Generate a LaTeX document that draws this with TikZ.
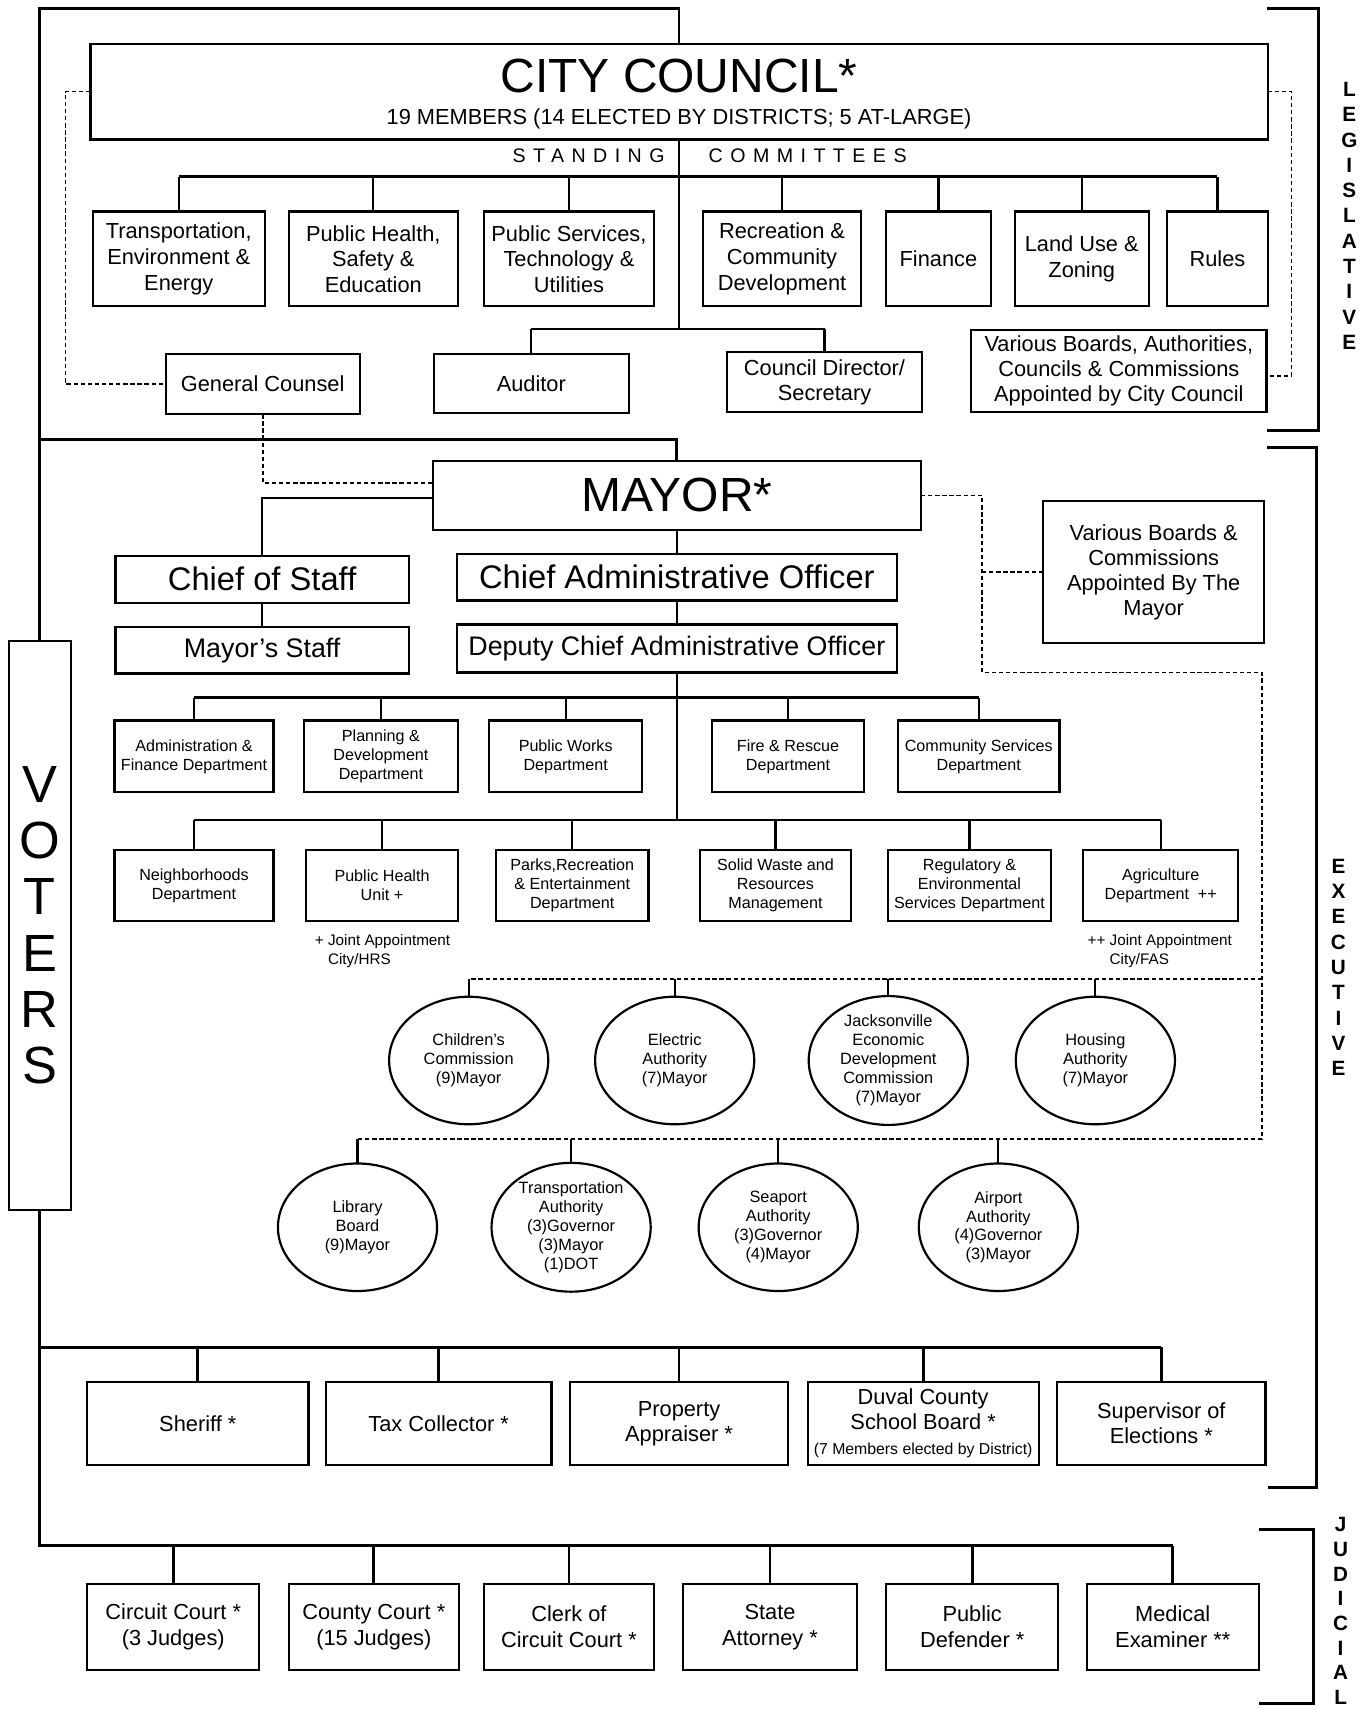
\documentclass[tikz,border=0pt]{standalone}
\usepackage{fontspec}
\setmainfont{Liberation Sans}
\usetikzlibrary{shapes.geometric}
\newcommand\fs[2]{\fontsize{#1}{#2}\selectfont}
\begin{document}
\begin{tikzpicture}[x=1pt,y=-1pt,
 box/.style={draw,line width=2pt,inner sep=0pt,outer sep=0pt,align=center},
 ln/.style={line width=2pt},
 mainln/.style={line width=2.6pt},
 dsh/.style={line width=1.6pt,dash pattern=on 4pt off 2.5pt},
 brk/.style={line width=2.8pt},
 ell/.style={draw,ellipse,line width=2pt,inner sep=0pt,outer sep=0pt,align=center,minimum width=146pt,minimum height=117pt,font=\fs{15}{17.4}},
 cmt/.style={box,minimum height=87pt,font=\fs{20}{23.5}},
 dep/.style={box,font=\fs{14.8}{17.4}},
 con/.style={box,minimum height=76pt,font=\fs{20}{23}},
 jud/.style={box,minimum height=79pt,font=\fs{20}{24}},
 sidelbl/.style={font=\bfseries\fs{19}{23.2},align=center,inner sep=0pt},
 ]
\useasboundingbox (0,0) rectangle (1253,1568);
% ---------- legislative ----------
\node[box,minimum width=1080pt,minimum height=88pt] (cc) at (623,84) {};
\node[font=\fs{44}{44},inner sep=0pt] (cct) at (623,70) {CITY COUNCIL*};
\node[font=\fs{20}{24},inner sep=0pt] (ccs) at (623,109) {19 MEMBERS (14 ELECTED BY DISTRICTS; 5 AT-LARGE)};
\node[font=\fs{18}{18}\addfontfeature{LetterSpace=38},inner sep=0pt] (stand) at (540,143) {STANDING};
\node[font=\fs{18}{18}\addfontfeature{LetterSpace=38},inner sep=0pt] (comm) at (741,143) {COMMITTEES};

\node[cmt,minimum width=158pt] (tee) at (164,237.5) {Transportation,\\Environment \&\\Energy};
\node[cmt,minimum width=155pt] (phse) at (342.5,237.5) {Public Health,\\Safety \&\\Education};
\node[cmt,minimum width=156pt] (pstu) at (522,237.5) {Public Services,\\Technology \&\\Utilities};
\node[cmt,minimum width=145pt] (rcd) at (717.5,237.5) {Recreation \&\\Community\\Development};
\node[cmt,minimum width=96pt] (fin) at (861,237.5) {Finance};
\node[cmt,minimum width=123pt] (luz) at (992.5,237.5) {Land Use \&\\Zoning};
\node[cmt,minimum width=92pt] (rules) at (1117,237.5) {Rules};

\node[box,minimum width=178pt,minimum height=55pt,font=\fs{20}{23}] (gc) at (241,352.5) {General Counsel};
\node[box,minimum width=179pt,minimum height=54pt,font=\fs{20}{23}] (aud) at (487.5,352) {Auditor};
\node[box,minimum width=179pt,minimum height=55pt,font=\fs{20}{23}] (cds) at (756.5,350.5) {Council Director/\\Secretary};
\node[box,minimum width=271pt,minimum height=75pt,font=\fs{20}{23}] (vbc) at (1026.5,340.5) {Various Boards, Authorities,\\Councils \& Commissions\\Appointed by City Council};

% ---------- executive ----------
\node[box,minimum width=448pt,minimum height=63pt,font=\fs{44}{44}] (mayor) at (621,454.5) {MAYOR*};
\node[box,minimum width=269pt,minimum height=43pt,font=\fs{30}{32}] (cos) at (240.5,531.5) {Chief of Staff};
\node[box,minimum width=269pt,minimum height=43pt,font=\fs{24.6}{28}] (ms) at (240.5,596.5) {Mayor's Staff};
\node[box,minimum width=404pt,minimum height=43pt,font=\fs{30}{32}] (cao) at (621,529.5) {Chief Administrative Officer};
\node[box,minimum width=404pt,minimum height=44pt,font=\fs{24.6}{28}] (dcao) at (621,595) {Deputy Chief Administrative Officer};
\node[box,minimum width=203pt,minimum height=130pt,font=\fs{20}{23}] (vbm) at (1058.5,525) {Various Boards \&\\Commissions\\Appointed By The\\Mayor};

\node[dep,minimum width=146pt,minimum height=66pt] (af) at (178,694) {Administration \&\\Finance Department};
\node[dep,minimum width=141pt,minimum height=66pt] (pd) at (349.5,694) {Planning \&\\Development\\Department};
\node[dep,minimum width=140pt,minimum height=66pt] (pw) at (519,694) {Public Works\\Department};
\node[dep,minimum width=140pt,minimum height=66pt] (fr) at (723,694) {Fire \& Rescue\\Department};
\node[dep,minimum width=148pt,minimum height=66pt] (cs) at (898,694) {Community Services\\Department};

\node[dep,minimum width=146pt,minimum height=65pt] (nb) at (178,812.5) {Neighborhoods\\Department};
\node[dep,minimum width=139pt,minimum height=65pt] (phu) at (350.5,812.5) {Public Health\\Unit +};
\node[dep,minimum width=140pt,minimum height=65pt] (pr) at (525,812.5) {Parks,Recreation\\\& Entertainment\\Department};
\node[dep,minimum width=139pt,minimum height=65pt] (sw) at (711.5,812.5) {Solid Waste and\\Resources\\Management};
\node[dep,minimum width=149pt,minimum height=65pt] (re) at (889.5,812.5) {Regulatory \&\\Environmental\\Services Department};
\node[dep,minimum width=142pt,minimum height=65pt] (ag) at (1065,812.5) {Agriculture\\Department\ \ ++};

\node[font=\fs{14}{17},align=left,inner sep=0pt] (n1) at (351,872.5) {+ Joint Appointment\\\phantom{+ }City/HRS};
\node[font=\fs{14}{17},align=left,inner sep=0pt] (n2) at (1064,872.5) {++ Joint Appointment\\\phantom{++ }City/FAS};

\node[ell] (chc) at (430,973) {Children's\\Commission\\(9)Mayor};
\node[ell] (ea) at (619,973) {Electric\\Authority\\(7)Mayor};
\node[ell] (jedc) at (815,973) {Jacksonville\\Economic\\Development\\Commission\\(7)Mayor};
\node[ell] (ha) at (1005,973) {Housing\\Authority\\(7)Mayor};
\node[ell] (lb) at (328,1126) {Library\\Board\\(9)Mayor};
\node[ell] (jta) at (524,1126) {Transportation\\Authority\\(3)Governor\\(3)Mayor\\(1)DOT};
\node[ell] (sp) at (714,1126) {Seaport\\Authority\\(3)Governor\\(4)Mayor};
\node[ell] (aa) at (916,1126) {Airport\\Authority\\(4)Governor\\(3)Mayor};

\node[con,minimum width=203pt] (sh) at (181.5,1306) {Sheriff *};
\node[con,minimum width=207pt] (tc) at (402.5,1306) {Tax Collector *};
\node[con,minimum width=200pt] (pa) at (623,1306) {Property\\Appraiser *};
\node[con,minimum width=212pt] (dcsb) at (847,1306) {Duval County\\School Board *\\{\fs{14.5}{16}(7 Members elected by District)}};
\node[con,minimum width=191pt] (soe) at (1065.5,1306) {Supervisor of\\Elections *};

% ---------- judicial ----------
\node[jud,minimum width=158pt] (circ) at (159,1492.5) {Circuit Court *\\(3 Judges)};
\node[jud,minimum width=156pt] (coun) at (343,1492.5) {County Court *\\(15 Judges)};
\node[jud,minimum width=156pt] (clerk) at (522,1492.5) {Clerk of\\Circuit Court *};
\node[jud,minimum width=159pt] (sa) at (706.5,1492.5) {State\\Attorney *};
\node[jud,minimum width=158pt] (pdf) at (892,1492.5) {Public\\Defender *};
\node[jud,minimum width=158pt] (me) at (1076,1492.5) {Medical\\Examiner **};

% ---------- voters ----------
\node[box,minimum width=57pt,minimum height=522pt,font=\fs{48}{51.6}] (vot) at (36.5,849) {V\\O\\T\\E\\R\\S};

% ---------- side labels ----------
\node[sidelbl] (leg) at (1238,198) {L\\E\\G\\I\\S\\L\\A\\T\\I\\V\\E};
\node[sidelbl] (exe) at (1228,887.5) {E\\X\\E\\C\\U\\T\\I\\V\\E};
\node[sidelbl,font=\bfseries\fs{19}{22.6}] (jdl) at (1230,1478) {J\\U\\D\\I\\C\\I\\A\\L};
\draw[brk] (1162,8) -| (1210,395) -- (1162,395);
\draw[brk] (1162,411) -| (1208,1365) -- (1163,1365);
\draw[brk] (1155,1403) -| (1205,1563) -- (1155,1563);

% ---------- main spine ----------
\coordinate (tl) at (36.5,8);
\coordinate (ml) at (36.5,403);
\coordinate (kl) at (36.5,1236);
\coordinate (bl) at (36.5,1418);
\draw[mainln] (vot.north) -- (tl) -| (cc.north);
\draw[mainln] (ml) -| (mayor.north);
\draw[mainln] (vot.south) -- (bl) -- (bl -| me.north);
\draw[mainln] (kl) -- (kl -| soe.north);
\foreach \n in {sh,tc,pa,dcsb,soe} \draw[mainln] (kl -| \n.north) -- (\n.north);
\foreach \n in {circ,coun,clerk,sa,pdf,me} \draw[mainln] (bl -| \n.north) -- (\n.north);

% ---------- council connectors ----------
\coordinate (cbus) at (623,162);
\coordinate (cb) at (623,302);
\draw[ln] (cc.south) -- (cb);
\draw[ln] (cbus -| tee.north) -- (cbus -| rules.north);
\foreach \n in {tee,phse,pstu,rcd,fin,luz,rules} \draw[ln] (cbus -| \n.north) -- (\n.north);
\draw[ln] (cb -| aud.north) -- (cb -| cds.north);
\foreach \n in {aud,cds} \draw[ln] (cb -| \n.north) -- (\n.north);
\draw[dsh] (cc.west) -- ++(-23,0) |- (gc.west);
\draw[dsh] (cc.east) -- ++(22,0) |- ([yshift=-4.5pt]vbc.east);
\draw[dsh] (gc.south) |- ([yshift=11.5pt]mayor.west);

% ---------- mayor connectors ----------
\draw[ln] ([yshift=-2.5pt]mayor.west) -| (cos.north);
\draw[ln] (cos.south) -- (ms.north);
\draw[ln] (mayor.south) -- (cao.north);
\draw[ln] (cao.south) -- (dcao.north);
\coordinate (d1) at (621,640);
\coordinate (d2) at (621,752);
\draw[ln] (dcao.south) -- (d2);
\draw[ln] (d1 -| af.north) -- (d1 -| cs.north);
\foreach \n in {af,pd,pw,fr,cs} \draw[ln] (d1 -| \n.north) -- (\n.north);
\draw[ln] (d2 -| nb.north) -- (d2 -| ag.north);
\foreach \n in {nb,phu,pr,sw,re,ag} \draw[ln] (d2 -| \n.north) -- (\n.north);

\coordinate (dv) at (901,617);
\coordinate (dr) at (1158,1045);
\coordinate (db) at (1158,898);
\draw[dsh] (mayor.east) -| (dv) -| (dr) -- (dr -| lb.north);
\draw[dsh] (vbm.west) -- (vbm.west -| dv);
\draw[dsh] (db) -- (db -| chc.north);
\foreach \n in {chc,ea,jedc,ha} \draw[ln] (db -| \n.north) -- (\n.north);
\foreach \n in {lb,jta,sp,aa} \draw[ln] (dr -| \n.north) -- (\n.north);
\end{tikzpicture}
\end{document}
